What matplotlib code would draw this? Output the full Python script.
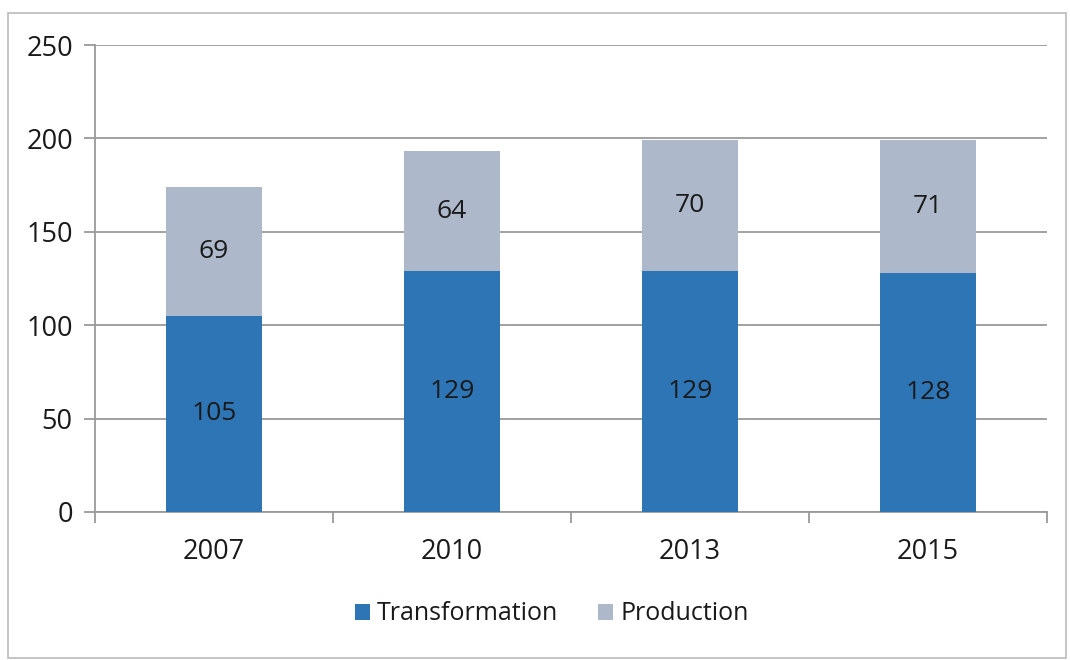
import matplotlib
matplotlib.use("Agg")
import matplotlib.pyplot as plt
from matplotlib.patches import Rectangle

plt.rcParams['font.family'] = ['Open Sans', 'DejaVu Sans']

years = ["2007", "2010", "2013", "2015"]
transformation = [105, 129, 129, 128]
production = [69, 64, 70, 71]
yticks = [0, 50, 100, 150, 200, 250]

W, H = 1070, 660
fig = plt.figure(figsize=(W / 100, H / 100), dpi=100)
ax = fig.add_axes([95 / W, 1 - 512 / H, (1047 - 95) / W, (512 - 45) / H])

blue = "#2E75B6"
gray = "#ADB9CA"
grid = "#9A9A9A"
txt = "#1a1a1a"

x = range(len(years))
b1 = ax.bar(x, transformation, width=0.4, color=blue, label="Transformation", zorder=3)
b2 = ax.bar(x, production, width=0.4, bottom=transformation, color=gray, label="Production", zorder=3)

for i in x:
    ax.text(i, transformation[i] / 2, str(transformation[i]), ha="center", va="center",
            fontsize=19, color=txt, zorder=4)
    ax.text(i, transformation[i] + production[i] / 2, str(production[i]), ha="center", va="center",
            fontsize=19, color=txt, zorder=4)

ax.set_xlim(-0.5, len(years) - 0.5)
ax.set_ylim(0, 250)
ax.set_yticks(yticks)
ax.set_yticklabels([str(v) for v in yticks], fontsize=19.5, color=txt)
ax.yaxis.grid(True, color=grid, linewidth=1.3, zorder=0)
ax.tick_params(axis="y", length=8, color=grid, width=1.3, pad=8)

ax.set_xticks([i for i in x])
ax.set_xticklabels(years, fontsize=19.5, color=txt)
ax.tick_params(axis="x", length=0, pad=19)
ax.set_xticks([i - 0.5 for i in range(len(years) + 1)], minor=True)
ax.tick_params(axis="x", which="minor", length=8, color=grid, width=1.3)

for s in ["top", "right"]:
    ax.spines[s].set_visible(False)
for s in ["left", "bottom"]:
    ax.spines[s].set_color(grid)
    ax.spines[s].set_linewidth(1.3)

leg = fig.legend(handles=[b1, b2], loc="center", bbox_to_anchor=(552 / W, 1 - 614 / H),
                 ncol=2, frameon=False, fontsize=18, handlelength=0.6, handleheight=0.6,
                 handletextpad=0.3, columnspacing=1.6)
for t in leg.get_texts():
    t.set_color(txt)

fig.patches.append(Rectangle((8 / W, 2 / H), (1066 - 8) / W, (658 - 13) / H,
                             transform=fig.transFigure, fill=False, edgecolor="#BBBBBB",
                             linewidth=1.2))

fig.savefig("out.png", dpi=100)
